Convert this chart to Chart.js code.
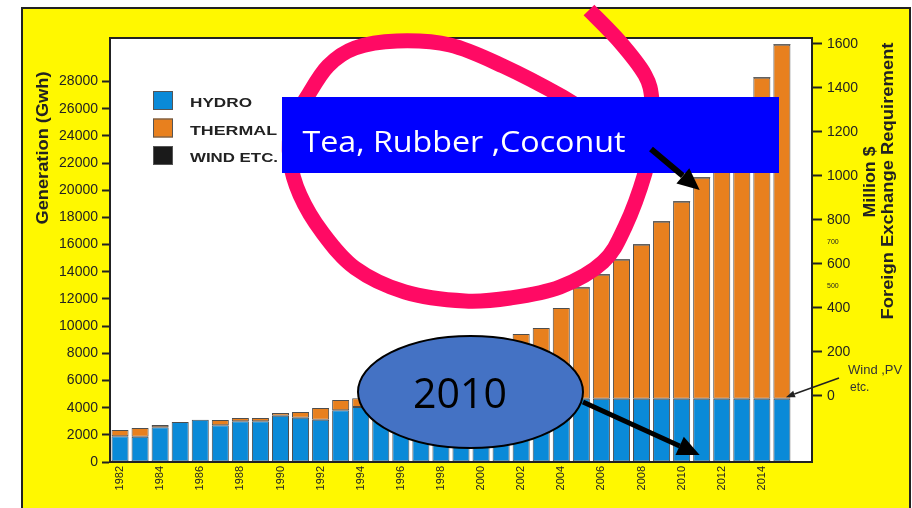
<!DOCTYPE html>
<html>
<head>
<meta charset="utf-8">
<script src="https://cdn.jsdelivr.net/npm/chart.js@4.4.1/dist/chart.umd.min.js"></script>
<style>
    html, body { margin: 0; padding: 0; background: #fff; }
    canvas { display: block; }
</style>
</head>
<body>
<canvas id="chart" width="912" height="508"></canvas>
<script>
// Generation (Gwh), one entry per year; the last slot is left empty
const years = ['1982', '1983', '1984', '1985', '1986', '1987', '1988', '1989', '1990', '1991',
    '1992', '1993', '1994', '1995', '1996', '1997', '1998', '1999', '2000', '2001',
    '2002', '2003', '2004', '2005', '2006', '2007', '2008', '2009', '2010', '2011',
    '2012', '2013', '2014', '2015', '2016'];
const hydro = [1900, 1850, 2550, 2950, 3100, 2700, 3000, 3000, 3400, 3250,
    3100, 3800, 4050, 4100, 3300, 3500, 4000, 4100, 3900, 3600,
    4200, 4400, 4600, 4650, 4650, 4650, 4650, 4650, 4650, 4650,
    4650, 4650, 4650, 4650, null];
const wind = [0, 0, 0, 0, 0, 0, 0, 0, 0, 0,
    0, 0, 0, 0, 0, 0, 0, 0, 0, 0,
    0, 0, 0, 50, 50, 50, 50, 50, 50, 50,
    50, 50, 50, 50, null];
const thermal = [450, 650, 170, 0, 0, 390, 240, 240, 200, 430,
    870, 760, 650, 600, 1700, 1700, 1600, 2000, 2900, 3600,
    5220, 5460, 6730, 8180, 9130, 10240, 11340, 13030, 14500, 16270,
    18400, 20830, 23630, 26060, null];

const leftTicks = [0, 2000, 4000, 6000, 8000, 10000, 12000, 14000, 16000, 18000, 20000, 22000, 24000, 26000, 28000];
const rightTicks = [0, 200, 400, 600, 800, 1000, 1200, 1400, 1600];
const rightSmallTicks = [500, 700];

const dark = '#222';

// draw text stretched to a given width
const fitText = (ctx, text, x, y, width, font, rotate) => {
    ctx.save();
    ctx.font = font;
    const sx = width / ctx.measureText(text).width;
    ctx.translate(x, y);
    if (rotate) ctx.rotate(-Math.PI / 2);
    ctx.scale(sx, 1);
    ctx.textAlign = 'center';
    ctx.textBaseline = 'middle';
    ctx.fillText(text, 0, 0);
    ctx.restore();
};

const arrow = (ctx, x1, y1, x2, y2, lw, headLen, headW) => {
    const a = Math.atan2(y2 - y1, x2 - x1);
    const bx = x2 - headLen * Math.cos(a);
    const by = y2 - headLen * Math.sin(a);
    ctx.lineWidth = lw;
    ctx.beginPath();
    ctx.moveTo(x1, y1);
    ctx.lineTo(bx, by);
    ctx.stroke();
    ctx.beginPath();
    ctx.moveTo(x2, y2);
    ctx.lineTo(bx + headW / 2 * Math.sin(a), by - headW / 2 * Math.cos(a));
    ctx.lineTo(bx - headW / 2 * Math.sin(a), by + headW / 2 * Math.cos(a));
    ctx.closePath();
    ctx.fill();
};

const smoothPath = (ctx, pts) => {
    ctx.moveTo(pts[0][0], pts[0][1]);
    for (let i = 0; i < pts.length - 1; i++) {
        const p0 = pts[i - 1] || pts[i];
        const p1 = pts[i];
        const p2 = pts[i + 1];
        const p3 = pts[i + 2] || p2;
        ctx.bezierCurveTo(
            p1[0] + (p2[0] - p0[0]) / 6, p1[1] + (p2[1] - p0[1]) / 6,
            p2[0] - (p3[0] - p1[0]) / 6, p2[1] - (p3[1] - p1[1]) / 6,
            p2[0], p2[1]);
    }
};

// freehand loop drawn over the slide
const loopPoints = [[589, 10], [620, 42], [645, 75], [652, 100], [652, 135], [645, 173], [625, 227],
    [603, 262], [560, 287], [510, 298], [465, 301], [405, 292], [355, 268], [322, 232], [300, 195],
    [290, 160], [292, 125], [307, 97], [328, 66], [355, 48], [397, 41], [450, 45], [503, 66],
    [563, 97], [585, 112]];

const framePlugin = {
    id: 'frame',
    beforeDraw: (chart) => {
        const ctx = chart.ctx;
        const area = chart.chartArea;
        ctx.save();
        ctx.fillStyle = '#fff';
        ctx.fillRect(0, 0, chart.width, chart.height);
        ctx.fillStyle = '#fff800';
        ctx.fillRect(22, 8, 888, 530);
        ctx.strokeStyle = dark;
        ctx.lineWidth = 2;
        ctx.strokeRect(22, 8, 888, 530);
        ctx.fillStyle = '#fff';
        ctx.fillRect(area.left, area.top, area.right - area.left, area.bottom - area.top);
        ctx.restore();
    },
    afterDraw: (chart) => {
        const ctx = chart.ctx;
        const area = chart.chartArea;
        const xs = chart.scales.x;
        const ys = chart.scales.y;
        ctx.save();

        // plot box
        ctx.strokeStyle = dark;
        ctx.lineWidth = 2;
        ctx.strokeRect(area.left, area.top, area.right - area.left, area.bottom - area.top);

        // legend
        chart.data.datasets.forEach((ds, i) => {
            const y = 91 + i * 27.5;
            ctx.fillStyle = ds.backgroundColor;
            ctx.fillRect(153, y, 20, 19);
            ctx.strokeStyle = '#555';
            ctx.lineWidth = 1;
            ctx.strokeRect(153.5, y + 0.5, 19, 18);
            ctx.fillStyle = '#222';
            const widths = [62, 87, 88];
            ctx.save();
            ctx.font = 'bold 12.5px "Liberation Sans"';
            ctx.textBaseline = 'alphabetic';
            ctx.translate(190, y + 16);
            ctx.scale(widths[i] / ctx.measureText(ds.label).width, 1);
            ctx.fillText(ds.label, 0, 0);
            ctx.restore();
        });

        // axis titles
        ctx.fillStyle = '#222';
        fitText(ctx, 'Generation (Gwh)', 44, 148, 153, 'bold 16px "Liberation Sans"', true);
        fitText(ctx, 'Million $', 870, 182, 71, 'bold 17px "Liberation Sans"', true);
        fitText(ctx, 'Foreign Exchange Requirement', 888, 181, 277, 'bold 17px "Liberation Sans"', true);

        // wind note
        const i15 = years.indexOf('2015');
        ctx.fillStyle = '#333';
        ctx.font = '13px "Liberation Sans"';
        ctx.textAlign = 'left';
        ctx.textBaseline = 'alphabetic';
        ctx.fillText('Wind ,PV', 848, 374);
        ctx.font = '12px "Liberation Sans"';
        ctx.fillText('etc.', 850, 391);
        ctx.strokeStyle = '#222';
        ctx.fillStyle = '#222';
        arrow(ctx, 839, 378, xs.getPixelForValue(i15) + 4, ys.getPixelForValue(hydro[i15] + wind[i15]) - 1, 1.5, 9, 7);

        // pink loop
        ctx.strokeStyle = '#ff0a64';
        ctx.lineWidth = 15;
        ctx.lineJoin = 'round';
        ctx.beginPath();
        smoothPath(ctx, loopPoints);
        ctx.stroke();

        // blue label box
        ctx.fillStyle = '#0000ff';
        ctx.fillRect(282, 97, 497, 76);
        ctx.fillStyle = '#fff';
        fitText(ctx, 'Tea, Rubber ,Coconut', 464, 143, 323, '30px "Open Sans"', false);

        // arrows to 2011
        const i11 = years.indexOf('2011');
        const tipX = xs.getPixelForValue(i11) - 2;
        ctx.strokeStyle = '#000';
        ctx.fillStyle = '#000';
        arrow(ctx, 651, 149, tipX, 190, 6, 22, 20);

        // 2010 ellipse
        ctx.beginPath();
        ctx.ellipse(470.5, 392, 112.5, 56, 0, 0, Math.PI * 2);
        ctx.fillStyle = '#4472c4';
        ctx.fill();
        ctx.lineWidth = 2;
        ctx.strokeStyle = '#000';
        ctx.stroke();
        ctx.fillStyle = '#000';
        fitText(ctx, '2010', 460, 396, 94, '42px "Open Sans"', false);

        ctx.fillStyle = '#000';
        arrow(ctx, 583, 402, tipX, 455, 5, 22, 20);

        ctx.restore();
    }
};

const barStyle = {
    borderWidth: 1,
    borderColor: '#4d4d4d',
    barPercentage: 0.85,
    categoryPercentage: 1.0,
    borderSkipped: false
};

const chart = new Chart(document.getElementById('chart').getContext('2d'), {
    type: 'bar',
    data: {
        labels: years,
        datasets: [
            { label: 'HYDRO', data: hydro, backgroundColor: '#0a8ad8', ...barStyle },
            { label: 'THERMAL', data: thermal, backgroundColor: '#e8801e', ...barStyle },
            { label: 'WIND ETC.', data: wind, backgroundColor: '#1a1a1a', ...barStyle, borderWidth: 0 }
        ]
    },
    options: {
        responsive: false,
        animation: false,
        devicePixelRatio: 1,
        layout: { padding: { top: 38, left: 0, right: 0, bottom: 0 } },
        plugins: {
            legend: { display: false },
            tooltip: { enabled: false }
        },
        scales: {
            x: {
                stacked: true,
                grid: { display: false, drawTicks: false },
                border: { display: false },
                afterFit: (scale) => { scale.height = 46; },
                ticks: {
                    autoSkip: false,
                    maxRotation: 90,
                    minRotation: 90,
                    padding: 4,
                    color: '#222',
                    font: { family: 'Liberation Sans', size: 11 },
                    callback: (value, index) => {
                        const yr = Number(years[index]);
                        return yr % 2 === 0 && yr <= 2014 ? years[index] : '';
                    }
                }
            },
            y: {
                stacked: true,
                position: 'left',
                min: 0,
                max: 31200,
                afterBuildTicks: (scale) => { scale.ticks = leftTicks.map((v) => ({ value: v })); },
                afterFit: (scale) => { scale.width = 110; },
                grid: { drawOnChartArea: false, tickLength: 8, tickWidth: 2, tickColor: dark },
                border: { display: true, color: dark, width: 2 },
                ticks: {
                    padding: 4,
                    color: '#222',
                    font: { family: 'Liberation Sans', size: 14 },
                    callback: (v) => String(v)
                }
            },
            y2: {
                position: 'right',
                min: -300,
                max: 1627,
                afterBuildTicks: (scale) => {
                    scale.ticks = rightTicks.concat(rightSmallTicks).map((v) => ({ value: v }));
                },
                afterFit: (scale) => { scale.width = 100; },
                grid: {
                    drawOnChartArea: false,
                    tickLength: 10,
                    tickWidth: 2,
                    tickColor: (c) => (c.tick && c.tick.value % 200 ? 'rgba(0,0,0,0)' : dark)
                },
                border: { display: false },
                ticks: {
                    padding: 5,
                    color: '#222',
                    font: (c) => ({ family: 'Liberation Sans', size: c.tick && c.tick.value % 200 ? 7 : 14 }),
                    callback: (v) => String(v)
                }
            }
        }
    },
    plugins: [framePlugin]
});
</script>
</body>
</html>
